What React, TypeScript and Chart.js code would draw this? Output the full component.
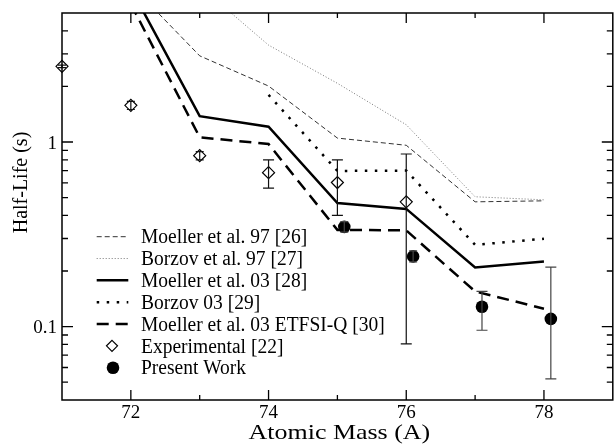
import React, { useEffect, useRef } from "react";
import { Chart, registerables } from "chart.js";
Chart.register(...registerables);

// ---- data ----
const massModel = [72, 73, 74, 75, 76, 77, 78];
const moeller97 = [7.1, 2.93, 2.01, 1.05, 0.96, 0.474, 0.48];
const borzov97Mass = [73, 74, 75, 76, 77, 78];
const borzov97 = [7.0, 3.35, 2.08, 1.24, 0.505, 0.486];
const moeller03 = [6.8, 1.38, 1.21, 0.467, 0.434, 0.209, 0.225];
const borzov03Mass = [74, 75, 76, 77, 78];
const borzov03 = [1.8, 0.697, 0.7, 0.277, 0.299];
const etfsiQ = [5.6, 1.06, 0.975, 0.334, 0.332, 0.155, 0.125];

const expMass = [71, 72, 73, 74, 75, 76];
const expHalfLife = [2.57, 1.58, 0.843, 0.682, 0.603, 0.474];
const expErrLow = [2.53, 1.5, 0.8, 0.562, 0.4, 0.0806];
const expErrHigh = [2.61, 1.66, 0.886, 0.8, 0.8, 0.861];

const presentMass = [75.1, 76.1, 77.1, 78.1];
const presentHalfLife = [0.347, 0.24, 0.128, 0.11];
const presentErrLow = [0.325, 0.224, 0.0955, 0.052];
const presentErrHigh = [0.37, 0.257, 0.155, 0.21];

const legendLabels = [
  "Moeller et al. 97 [26]",
  "Borzov et al. 97 [27]",
  "Moeller et al. 03 [28]",
  "Borzov 03 [29]",
  "Moeller et al. 03 ETFSI-Q [30]",
  "Experimental [22]",
  "Present Work",
];

const xMajorTicks = [72, 74, 76, 78];
const xMinorTicks = [73, 75, 77];
const yMajorTicks = [0.1, 1];
const yMajorLabels = ["0.1", "1"];
const yMinorTicks = [0.05, 0.06, 0.07, 0.08, 0.09, 0.2, 0.3, 0.4, 0.5, 0.6, 0.7, 0.8, 0.9, 2, 3, 4];

const xTitle = "Atomic Mass (A)";
const yTitle = "Half-Life (s)";

const FONT = '"Liberation Serif", "Times New Roman", serif';

const pts = (xs: number[], ys: number[]) => xs.map((x, i) => ({ x, y: ys[i] }));

function txt(ctx: CanvasRenderingContext2D, s: string, x: number, y: number, font: string, align: CanvasTextAlign, sx = 1) {
  ctx.save();
  ctx.translate(x, y);
  ctx.scale(sx, 1);
  ctx.font = font;
  ctx.textAlign = align;
  ctx.textBaseline = "alphabetic";
  ctx.fillStyle = "#000";
  ctx.fillText(s, 0, 0);
  ctx.restore();
}

const decorPlugin = {
  id: "decor",
  afterDatasetsDraw(chart: any) {
    const ctx: CanvasRenderingContext2D = chart.ctx;
    const xs = chart.scales.x;
    const ys = chart.scales.y;
    const { left, right, top, bottom } = chart.chartArea;
    ctx.save();

    // error bars
    const bars = (m: number[], lo: number[], hi: number[], color: string) => {
      ctx.strokeStyle = color;
      ctx.lineWidth = 1.2;
      ctx.setLineDash([]);
      m.forEach((v, i) => {
        const x = xs.getPixelForValue(v);
        const y1 = ys.getPixelForValue(lo[i]);
        const y2 = ys.getPixelForValue(hi[i]);
        const cw = Math.abs(y1 - y2) < 14 ? 4 : 5.5;
        ctx.beginPath();
        ctx.moveTo(x, y1);
        ctx.lineTo(x, y2);
        ctx.moveTo(x - cw, y1);
        ctx.lineTo(x + cw, y1);
        ctx.moveTo(x - cw, y2);
        ctx.lineTo(x + cw, y2);
        ctx.stroke();
      });
    };
    bars(expMass, expErrLow, expErrHigh, "#111");
    bars(presentMass, presentErrLow, presentErrHigh, "#444");

    // frame
    ctx.strokeStyle = "#000";
    ctx.lineWidth = 1.5;
    ctx.strokeRect(left, top, right - left, bottom - top);

    // ticks
    ctx.lineWidth = 1.3;
    ctx.beginPath();
    const xt = (v: number, len: number) => {
      const x = xs.getPixelForValue(v);
      ctx.moveTo(x, bottom);
      ctx.lineTo(x, bottom - len);
      ctx.moveTo(x, top);
      ctx.lineTo(x, top + len);
    };
    xMajorTicks.forEach((v) => xt(v, 10));
    xMinorTicks.forEach((v) => xt(v, 5));
    const yt = (v: number, len: number) => {
      const y = ys.getPixelForValue(v);
      ctx.moveTo(left, y);
      ctx.lineTo(left + len, y);
      ctx.moveTo(right, y);
      ctx.lineTo(right - len, y);
    };
    yMajorTicks.forEach((v) => yt(v, 11));
    yMinorTicks.forEach((v) => yt(v, 6));
    ctx.stroke();

    // tick labels
    const tf = `19px ${FONT}`;
    xMajorTicks.forEach((v) => txt(ctx, String(v), xs.getPixelForValue(v), bottom + 18, tf, "center"));
    yMajorTicks.forEach((v, i) => txt(ctx, yMajorLabels[i], left - 5, ys.getPixelForValue(v) + 6.5, tf, "right"));

    // axis titles
    txt(ctx, xTitle, (left + right) / 2 + 2, 439.3, `22px ${FONT}`, "center", 1.18);
    ctx.save();
    ctx.translate(27, 182.5);
    ctx.rotate(-Math.PI / 2);
    txt(ctx, yTitle, 0, 0, `20px ${FONT}`, "center");
    ctx.restore();

    // legend
    const ds = chart.data.datasets;
    const lx1 = 96.7, lx2 = 128.3, tx = 141, y0 = 236.7, dy = 21.83;
    legendLabels.forEach((lab, i) => {
      const y = y0 + dy * i;
      const d = ds[i];
      if (i < 5) {
        ctx.save();
        ctx.strokeStyle = d.borderColor;
        ctx.lineWidth = d.borderWidth;
        ctx.setLineDash(d.borderDash || []);
        ctx.beginPath();
        ctx.moveTo(lx1, y);
        ctx.lineTo(lx2, y);
        ctx.stroke();
        ctx.restore();
      } else if (i === 5) {
        ctx.save();
        ctx.fillStyle = "#fff";
        ctx.strokeStyle = "#000";
        ctx.lineWidth = 1.2;
        ctx.setLineDash([]);
        ctx.beginPath();
        ctx.moveTo(112, y - 5.5);
        ctx.lineTo(117.5, y);
        ctx.lineTo(112, y + 5.5);
        ctx.lineTo(106.5, y);
        ctx.closePath();
        ctx.fill();
        ctx.stroke();
        ctx.restore();
      } else {
        ctx.save();
        ctx.fillStyle = "#000";
        ctx.beginPath();
        ctx.arc(113, y, 6.3, 0, Math.PI * 2);
        ctx.fill();
        ctx.restore();
      }
      txt(ctx, lab, tx, y + 6.7, `20px ${FONT}`, "left", 0.975);
    });

    ctx.restore();
  },
};

export default function App() {
  const ref = useRef<HTMLCanvasElement | null>(null);
  useEffect(() => {
    if (!ref.current) return;
    const lineBase = { pointRadius: 0, tension: 0, fill: false, showLine: true };
    const chart = new Chart(ref.current, {
      type: "line",
      data: {
        datasets: [
          { ...lineBase, label: legendLabels[0], data: pts(massModel, moeller97), borderColor: "#333", borderWidth: 1, borderDash: [5, 3] },
          { ...lineBase, label: legendLabels[1], data: pts(borzov97Mass, borzov97), borderColor: "#777", borderWidth: 1, borderDash: [1, 2] },
          { ...lineBase, label: legendLabels[2], data: pts(massModel, moeller03), borderColor: "#000", borderWidth: 2.5 },
          { ...lineBase, label: legendLabels[3], data: pts(borzov03Mass, borzov03), borderColor: "#000", borderWidth: 2.5, borderDash: [2.5, 7.5] },
          { ...lineBase, label: legendLabels[4], data: pts(massModel, etfsiQ), borderColor: "#000", borderWidth: 2.5, borderDash: [12, 7] },
          {
            label: legendLabels[5],
            data: pts(expMass, expHalfLife),
            showLine: false,
            pointStyle: "rectRot",
            pointRadius: 6,
            pointBackgroundColor: "#fff",
            pointBorderColor: "#000",
            pointBorderWidth: 1.2,
            clip: false,
          },
          {
            label: legendLabels[6],
            data: pts(presentMass, presentHalfLife),
            showLine: false,
            pointStyle: "circle",
            pointRadius: 6.3,
            pointBackgroundColor: "#000",
            pointBorderColor: "#000",
            pointBorderWidth: 0,
            clip: false,
          },
        ] as any,
      },
      options: {
        responsive: false,
        maintainAspectRatio: false,
        animation: false,
        events: [],
        layout: { padding: { left: 62, top: 13, right: 5, bottom: 45 } },
        plugins: { legend: { display: false }, tooltip: { enabled: false } },
        scales: {
          x: { type: "linear", min: 71, max: 79, display: false },
          y: { type: "logarithmic", min: 0.04, max: 5, display: false },
        },
      } as any,
      plugins: [decorPlugin],
    });
    return () => chart.destroy();
  }, []);
  return (
    <div style={{ position: "fixed", left: 0, top: 0, width: 614, height: 445, overflow: "hidden", background: "#fff" }}>
      <canvas ref={ref} width={620} height={445} style={{ display: "block", width: 620, height: 445 }} />
    </div>
  );
}
